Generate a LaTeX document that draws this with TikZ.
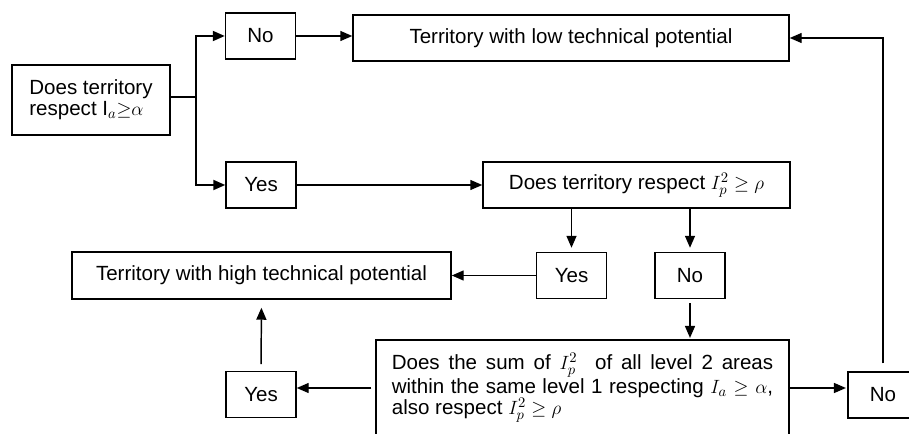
\documentclass[tikz,border=0pt]{standalone}
\usepackage{amsmath,amssymb}
\usepackage{fontspec}
\setmainfont{Liberation Sans}
\usepackage{tikz}
\usetikzlibrary{arrows.meta,calc}

\begin{document}
\begin{tikzpicture}[x=0.75pt,y=-0.75pt,
  box/.style={rectangle,draw=black,line width=1.1pt,inner sep=0pt,minimum height=34.5pt,font=\fontsize{15.4}{15.8}\selectfont},
  ans/.style={box,minimum width=52.5pt},
  arr/.style={-{Triangle[length=9pt,width=7.5pt]},line width=1.1pt}]
\useasboundingbox (0,0) rectangle (909,434);
\clip (0,0) rectangle (909,434);
% decision boxes and answers
\node[box,minimum width=118.5pt,minimum height=52.5pt,align=left] (q1) at (91,100) {Does territory\\respect $\mathrm{I}_a{\geq}\alpha$};
\node[ans] (no1) at (260.5,36) {No};
\node[ans] (yes1) at (261,185) {Yes};
\node[box,minimum width=327pt] (low) at (571,38) {Territory with low technical potential};
\node[box,minimum width=230.25pt] (q2) at (636.5,185) {Does territory respect $I_p^2\geq\rho$};
\node[ans] (yes2) at (571.5,275.5) {Yes};
\node[ans] (no2) at (690,275.5) {No};
\node[box,minimum width=284.25pt,minimum height=35.25pt] (high) at (261.5,275.5) {Territory with high technical potential};
\node[box,minimum width=309.75pt,minimum height=72pt,align=left] (q3) at (582.5,388) {%
  \makebox[286pt][s]{Does the sum of $I_p^2$ \ of all level 2 areas}\\
  \makebox[286pt][s]{within the same level 1 respecting $I_a\geq\alpha$,}\\
  \makebox[286pt][l]{also respect $I_p^2\geq\rho$}};
\node[ans] (yes3) at (261,394.5) {Yes};
\node[ans] (no3) at (883,395) {No};
% branch of the first question
\coordinate (br) at (196,97);
\draw[line width=1.5pt] (q1.east |- br) -- (br);
\foreach \v in {no1,yes1} \draw[arr,line width=1.5pt] (br) |- (\v.west);
% connectors
\draw[arr] (no1.east) -- (no1.east -| low.west);
\draw[arr] (yes1.east) -- (q2.west);
\foreach \v in {yes2,no2} \draw[arr,shorten >=3pt] (\v.north |- q2.south) -- (\v.north);
\draw[arr] (yes2.west) -- (yes2.west -| high.east);
\draw[arr,shorten <=3pt,shorten >=1pt] (no2.south) -- (no2.south |- q3.north);
\draw[arr,shorten >=1pt] (q3.east) -- (q3.east -| no3.west);
\draw[arr,shorten <=3pt] (q3.west) -- (q3.west -| yes3.east);
\draw[arr,shorten <=5pt,shorten >=6pt] (yes3.north) -- (high.south);
\draw[arr,shorten <=6pt] (no3.north) |- (low.east);
\end{tikzpicture}
\end{document}
